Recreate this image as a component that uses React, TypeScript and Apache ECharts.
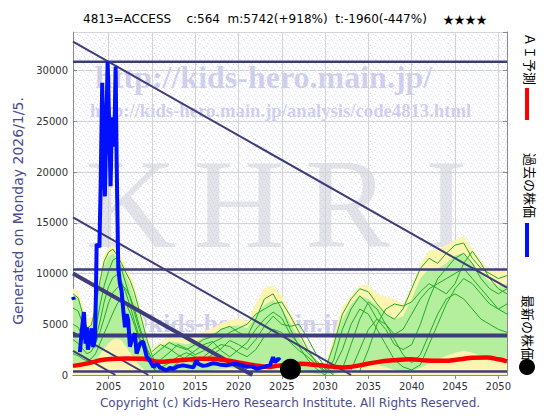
import React, { useEffect, useRef } from "react";
import * as echarts from "echarts";

// ---------------- axes ----------------
const X_MIN = 2000.9;
const X_MAX = 2051.0;
const Y_MAX = 33800;
const Y_INTERVAL = 5000;
const xTickYears = [2005, 2010, 2015, 2020, 2025, 2030, 2035, 2040, 2045, 2050];

// ---------------- texts ----------------
const TITLE = "4813=ACCESS    c:564  m:5742(+918%)  t:-1960(-447%)";
const TITLE_STARS = "\u2605\u2605\u2605\u2605";
const Y_NAME = "Generated on Monday 2026/1/5.";
const COPYRIGHT = "Copyright (c) Kids-Hero Research Institute. All Rights Reserved.";
const LEGEND_AI = "\uff21\uff29\u4e88\u6e2c";
const LEGEND_PAST = "\u904e\u53bb\u306e\u682a\u4fa1";
const LEGEND_LATEST = "\u6700\u65b0\u306e\u682a\u4fa1";

// ---------------- past price (blue) ----------------
const pastYears = [
  2000.92, 2001.0, 2001.3, 2001.7, 2001.9, 2002.16, 2002.35, 2002.5, 2002.62, 2002.85,
  2003.05, 2003.23, 2003.43, 2003.55, 2003.63, 2003.95, 2004.1, 2004.27, 2004.58, 2004.9,
  2005.24, 2005.4, 2005.55, 2005.7, 2005.82, 2005.94, 2006.12, 2006.32, 2006.51, 2006.7,
  2006.9, 2007.1, 2007.27, 2007.47, 2007.67, 2008.05, 2008.24, 2008.63, 2009.0, 2009.4,
  2009.78, 2010.16, 2010.6, 2010.94, 2011.3, 2011.7, 2012.1, 2012.47, 2013.0, 2013.6,
  2014.2, 2014.8, 2015.17, 2015.36, 2015.9, 2016.33, 2017.0, 2017.5, 2018.0, 2018.6,
  2019.2, 2019.8, 2020.4, 2020.95, 2021.5, 2022.1, 2022.86, 2023.3, 2023.64, 2024.0,
  2024.2, 2024.6, 2024.8,
];
const pastValues = [
  7700, 7400, null, 2250, 4300, 6200, 3100, 4700, 2500, 3600,
  4600, 2750, 3600, 8000, 12900, 12600, 19000, 28800, 17600, 30900,
  18600, 25400, 22500, 24500, 30400, 21000, 10600, 9000, 8300, 6400,
  4700, 6000, 5400, 2800, 3400, 4100, 2100, 3100, 3300, 1800,
  1400, 800, 1100, 750, 600, 450, 700, 600, 850, 950,
  850, 750, 1450, 1100, 900, 950, 1150, 1100, 1000, 950,
  1050, 1100, 950, 800, 850, 620, 780, 900, 950, 1760,
  1250, 1600, 1450,
];

// ---------------- AI forecast (red) ----------------
const aiYears = [
  2000.9, 2002, 2003.2, 2004, 2005.2, 2007, 2009, 2010.9, 2012.5, 2014, 2015.5, 2016.7,
  2018.6, 2020.5, 2022.5, 2023.6, 2024.4, 2026, 2027.1, 2029.4, 2031, 2032.1, 2033, 2034,
  2036, 2037.9, 2039.8, 2041.7, 2043.6, 2045.6, 2047, 2048.7, 2050, 2051,
];
const aiValues = [
  900, 1050, 1270, 1450, 1580, 1620, 1600, 1300, 1400, 1500, 1600, 1600,
  1450, 1150, 880, 800, 900, 1000, 1100, 950, 800, 750, 800, 950,
  1270, 1450, 1550, 1430, 1400, 1550, 1700, 1720, 1550, 1350,
];

// ---------------- latest price ----------------
const latestYear = 2026.0;
const latestValue = 564;

// ---------------- forecast fan 1 ----------------
const r1Years = [2000.9, 2001.5, 2002, 2002.5, 2003, 2003.5, 2004, 2004.5, 2005, 2005.5, 2006, 2006.5, 2007, 2007.5, 2008, 2008.5, 2009, 2009.5, 2010, 2010.5, 2011, 2011.5];
const r1Outer = [8500, 8300, 6900, 5600, 5700, 7300, 10200, 11900, 12500, 12800, 12400, 11700, 10800, 9900, 8800, 7200, 5600, 3900, 2500, 1300, 500, 0];
const r1BandTop = [7800, 7500, 6000, 4800, 4700, 6200, 9000, 10800, 11700, 12000, 11600, 10800, 9800, 8800, 7600, 6000, 4600, 3100, 1900, 900, 300, 0];
const r1BandBottom = [1200, 1100, 900, 800, 1000, 1400, 2000, 2600, 3100, 3500, 3600, 3400, 2800, 2200, 1600, 1000, 600, 300, 100, 0, 0, 0];
const r1Line1 = [8000, 7600, 6100, 4600, 4900, 6600, 9200, 11200, 12100, 12400, 11800, 11000, 10100, 9300, 8100, 6500, 4900, 3300, 2000, 1000, 300, null];
const r1Line2 = [6600, 6300, 5100, 3900, 3600, 4400, 6800, 8800, 10200, 11300, 11600, 10400, 9000, 7600, 6100, 4600, 3500, 2500, 1600, 800, null, null];
const r1Line3 = [5000, 4700, 3900, 3100, 2900, 3600, 5200, 7200, 8700, 9600, 9900, 9200, 8100, 6800, 5300, 3900, 2700, 1700, 900, 300, null, null];
const r1Line4 = [3500, 3100, 2600, 2100, 2300, 3100, 4200, 5600, 7100, 8100, 8600, 8900, 8500, 7700, 6500, 5000, 3600, 2300, 1300, 600, null, null];
const r1Line5 = [2100, 1900, 1600, 1400, 1600, 2100, 3100, 4100, 5100, 6100, 7000, 7600, 7100, 6100, 4900, 3600, 2600, 1600, 900, 400, null, null];

// ---------------- forecast fan 2 ----------------
const r2Years = [2009, 2010, 2011, 2012, 2013, 2014, 2015, 2016, 2017, 2018, 2019, 2020, 2021, 2022, 2023, 2024, 2025, 2026, 2027, 2028, 2029, 2030, 2031];
const r2Outer = [0, 2600, 3300, 3800, 3700, 3500, 3800, 4300, 4600, 5100, 5400, 5600, 5300, 7100, 8600, 8800, 7800, 6100, 4700, 3000, 1600, 700, 0];
const r2BandTop = [0, 2100, 2800, 3300, 3200, 3000, 3300, 3700, 4100, 4500, 4800, 4900, 4600, 5900, 6900, 7400, 6600, 5100, 3700, 2300, 1200, 400, 0];
const r2BandBottom = [0, 200, 300, 300, 400, 300, 300, 400, 500, 600, 700, 600, 600, 800, 1100, 1300, 1200, 900, 600, 300, 100, 0, 0];
const r2Line1 = [null, 1800, 2500, 3200, 2800, 2500, 3000, 3500, 3800, 4500, 4800, 4200, 3800, 5500, 7500, 8000, 6500, 4500, 2800, 1500, 600, 0, null];
const r2Line2 = [null, 1200, 1500, 2200, 3000, 2600, 2000, 2400, 3200, 3600, 4200, 4600, 5000, 6000, 6500, 7000, 7200, 5800, 4200, 2500, 1200, 400, null];
const r2Line3 = [null, 900, 700, 1200, 1800, 2200, 1800, 1500, 2000, 2600, 3400, 3000, 2500, 3500, 4800, 5800, 5000, 4800, 5000, 3600, 2000, 800, 200];
const r2Line4 = [null, 2300, 3000, 2600, 2000, 1500, 1200, 1800, 2500, 3000, 2800, 2200, 1800, 2500, 3800, 4500, 4200, 3200, 2400, 1800, 1000, 300, null];
const r2Line5 = [null, null, null, 500, 1200, 1800, 2400, 3000, 3300, 2400, 1800, 2500, 3200, 4500, 5500, 6200, 5600, 4000, 3000, 2200, 1400, 600, 0];

// ---------------- forecast fan 3 ----------------
const r3Years = [2029, 2030, 2031, 2032, 2033, 2034, 2035, 2036, 2037, 2038, 2039, 2040, 2041, 2042, 2043, 2044, 2045, 2046, 2047, 2048, 2049, 2050, 2051];
const r3Outer = [0, 900, 4000, 6800, 7800, 8800, 8900, 8000, 7700, 7500, 7000, 8800, 11000, 12300, 12400, 12800, 13300, 13700, 12500, 11200, 10500, 10200, 10300];
const r3BandTop = [0, 500, 3000, 5500, 7000, 7800, 7500, 6800, 6000, 5500, 5800, 7500, 9500, 10500, 10500, 11000, 11800, 12000, 11000, 10000, 9200, 8800, 9000];
const r3BandBottom = [0, 0, 100, 300, 600, 900, 1100, 1000, 800, 500, 300, 400, 700, 1100, 1500, 1900, 2200, 2400, 2200, 1900, 1700, 1600, 1700];
const r3Line1 = [null, 500, 3000, 6000, 7500, 8500, 8200, 7000, 6000, 5500, 6500, 8500, 10500, 11500, 11000, 12000, 12800, 13000, 11500, 10500, 10000, 9500, 9800];
const r3Line2 = [null, 0, 1500, 4500, 6500, 7800, 7000, 5500, 4500, 3000, 2500, 3000, 5000, 7500, 9500, 10500, 11500, 12000, 11000, 9500, 8500, 8000, 8500];
const r3Line3 = [null, null, 800, 2500, 5000, 6500, 6000, 4500, 3000, 1500, 800, 500, 1000, 3000, 5000, 7000, 8500, 9500, 9000, 8000, 7000, 6500, 7000];
const r3Line4 = [null, null, null, 600, 3000, 5500, 7200, 6500, 5000, 4000, 4500, 6000, 7500, 8500, 9000, 9500, 10000, 10500, 9500, 8500, 7500, 6500, 6000];
const r3Line5 = [null, null, null, null, 500, 2500, 4500, 5500, 5000, 3500, 2000, 1200, 2000, 4000, 6000, 7500, 8000, 7500, 6500, 5500, 5000, 4500, 4200];
const r3Line6 = [null, null, null, null, null, 400, 2500, 5000, 6500, 7000, 6800, 7200, 8200, 9000, 8500, 8000, 9000, 11000, 12200, 11000, 9500, 8500, 8000];

// ---------------- trend lines (start / end) ----------------
const trendA = [[2000.9, 32850], [2051.0, 8600]];
const trendB = [[2000.9, 15530], [2033.0, 0]];
const trendC = [[2000.9, 10000], [2021.6, 0]];
const trendD = [[2000.9, 4200], [2009.6, 0]];
const trendE = [[2000.9, 2370], [2005.8, 0]];
const levelValues = [30875, 10400, 3900, 350];
const levelWidths = [2.5, 2.5, 4, 2.5];

// ---------------- helpers ----------------
const zip = (xs: number[], ys: (number | null)[]) =>
  xs.map((x, i) => [x, ys[i]]).filter((p) => p[1] !== null);

const YELLOW = "#fcf5b2";
const LGREEN = "#b4ef9e";
const GLINE = "#22ab22";
const NAVY = "#3d3d7a";
const SLATE = "#4b4b8e";

function makePattern(): any {
  const c = document.createElement("canvas");
  c.width = 8;
  c.height = 8;
  const ctx = c.getContext("2d");
  if (!ctx) return "#faf8fb";
  ctx.fillStyle = "#ffffff";
  ctx.fillRect(0, 0, 8, 8);
  const pink = [[1, 0], [5, 2], [2, 5], [6, 6]];
  const cyan = [[4, 0], [0, 3], [7, 3], [3, 7]];
  ctx.fillStyle = "#f4cff2";
  pink.forEach(([x, y]) => ctx.fillRect(x, y, 1, 1));
  ctx.fillStyle = "#cdeff3";
  cyan.forEach(([x, y]) => ctx.fillRect(x, y, 1, 1));
  return { image: c, repeat: "repeat" };
}

export default function App() {
  const ref = useRef<HTMLDivElement>(null);

  useEffect(() => {
    if (!ref.current) return;
    const chart = echarts.init(ref.current, undefined, { renderer: "svg" });

    const area = (xs: number[], ys: (number | null)[], color: string) => ({
      type: "line",
      data: zip(xs, ys),
      symbol: "none",
      showSymbol: false,
      silent: true,
      lineStyle: { width: 0, opacity: 0 },
      areaStyle: { color, opacity: 1 },
    });
    const gline = (xs: number[], ys: (number | null)[]) => ({
      type: "line",
      data: zip(xs, ys),
      symbol: "none",
      showSymbol: false,
      silent: true,
      lineStyle: { color: GLINE, width: 1 },
    });
    const navyLine = (data: number[][], width: number) => ({
      type: "line",
      data,
      symbol: "none",
      showSymbol: false,
      silent: true,
      lineStyle: { color: NAVY, width },
    });

    const series: any[] = [
      area(r1Years, r1Outer, YELLOW),
      area(r2Years, r2Outer, YELLOW),
      area(r3Years, r3Outer, YELLOW),
      area(r1Years, r1BandTop, LGREEN),
      area(r2Years, r2BandTop, LGREEN),
      area(r3Years, r3BandTop, LGREEN),
      area(r1Years, r1BandBottom, YELLOW),
      area(r2Years, r2BandBottom, YELLOW),
      area(r3Years, r3BandBottom, YELLOW),
      gline(r1Years, r1Line1),
      gline(r1Years, r1Line2),
      gline(r1Years, r1Line3),
      gline(r1Years, r1Line4),
      gline(r1Years, r1Line5),
      gline(r2Years, r2Line1),
      gline(r2Years, r2Line2),
      gline(r2Years, r2Line3),
      gline(r2Years, r2Line4),
      gline(r2Years, r2Line5),
      gline(r3Years, r3Line1),
      gline(r3Years, r3Line2),
      gline(r3Years, r3Line3),
      gline(r3Years, r3Line4),
      gline(r3Years, r3Line5),
      gline(r3Years, r3Line6),
      navyLine(trendA, 2),
      navyLine(trendB, 2),
      navyLine(trendC, 4),
      navyLine(trendD, 2),
      navyLine(trendE, 2),
      ...levelValues.map((v, i) => navyLine([[X_MIN, v], [X_MAX, v]], levelWidths[i])),
      {
        type: "line",
        data: zip(aiYears, aiValues),
        symbol: "none",
        showSymbol: false,
        smooth: 0.4,
        silent: true,
        lineStyle: { color: "#ff0000", width: 4.5 },
      },
      {
        type: "line",
        data: pastYears.map((x, i) => [x, pastValues[i] === null ? "-" : pastValues[i]]),
        symbol: "none",
        showSymbol: false,
        connectNulls: false,
        silent: true,
        lineStyle: { color: "#0010ff", width: 4 },
      },
      {
        type: "scatter",
        data: [[latestYear, latestValue]],
        symbol: "circle",
        symbolSize: 21,
        clip: false,
        z: 10,
        silent: true,
        itemStyle: { color: "#000000", opacity: 1 },
      },
    ];

    const axisGray = "#8a8a8a";
    const labelFont = { color: "#333", fontSize: 10, fontFamily: "DejaVu Sans" };
    const wm = "rgba(170,170,225,0.55)";
    const khri = "rgba(200,200,214,0.5)";
    const txt = (x: number, y: number, text: string, font: string, fill: string, align: string, valign: string, z: number, rotation = 0) => ({
      type: "text",
      z,
      silent: true,
      x,
      y,
      rotation,
      style: { text, font, fill, textAlign: align, textVerticalAlign: valign, align, verticalAlign: valign },
    });

    const option: any = {
      animation: false,
      backgroundColor: "#ffffff",
      grid: { left: 73, right: 53, top: 32, bottom: 45, containLabel: false },
      xAxis: [
        {
          type: "value",
          position: "bottom",
          min: X_MIN,
          max: X_MAX,
          axisLine: { show: true, lineStyle: { color: axisGray } },
          axisTick: { show: true, inside: true, length: 4, customValues: xTickYears, lineStyle: { color: axisGray } },
          axisLabel: { ...labelFont, customValues: xTickYears, margin: 6, formatter: (v: number) => String(v) },
          splitLine: { show: true, lineStyle: { color: "#d4d4d4", width: 1 } },
        },
        {
          type: "value",
          position: "top",
          min: X_MIN,
          max: X_MAX,
          axisLine: { show: true, lineStyle: { color: axisGray } },
          axisTick: { show: true, inside: true, length: 4, customValues: xTickYears, lineStyle: { color: axisGray } },
          axisLabel: { show: false },
          splitLine: { show: false },
        },
      ],
      yAxis: [
        {
          type: "value",
          position: "left",
          min: 0,
          max: Y_MAX,
          interval: Y_INTERVAL,
          axisLine: { show: true, lineStyle: { color: axisGray } },
          axisTick: { show: true, inside: true, length: 4, lineStyle: { color: axisGray } },
          axisLabel: { ...labelFont, margin: 5, showMaxLabel: false, formatter: (v: number) => String(v) },
          splitLine: { show: true, lineStyle: { color: "#d4d4d4", width: 1 } },
        },
        {
          type: "value",
          position: "right",
          min: 0,
          max: Y_MAX,
          interval: Y_INTERVAL,
          axisLine: { show: true, lineStyle: { color: axisGray } },
          axisTick: { show: true, inside: true, length: 4, lineStyle: { color: axisGray } },
          axisLabel: { show: false },
          splitLine: { show: false },
        },
      ],
      graphic: [
        { type: "rect", z: -20, silent: true, shape: { x: 73, y: 32, width: 434, height: 343 }, style: { fill: makePattern() } },
        txt(95, 77, "http://kids-hero.main.jp/", 'bold 32px "Liberation Serif"', wm, "left", "middle", -10),
        txt(90, 110, "http://kids-hero.main.jp/analysis/code4813.html", 'bold 18.7px "Liberation Serif"', wm, "left", "middle", -10),
        txt(85, 204, "K", '127px "Liberation Serif"', khri, "left", "middle", -10),
        txt(193, 204, "H", '127px "Liberation Serif"', khri, "left", "middle", -10),
        txt(305, 204, "R", '127px "Liberation Serif"', khri, "left", "middle", -10),
        txt(425, 204, "I", '127px "Liberation Serif"', khri, "left", "middle", -10),
        txt(81, 323, "info@kids-hero.main.jp", 'bold 26px "Liberation Serif"', wm, "left", "middle", -10),
        txt(83, 19, TITLE, '12px "DejaVu Sans"', "#000", "left", "middle", 10),
        txt(443, 19, TITLE_STARS, '11px "Noto Sans CJK JP"', "#000", "left", "middle", 10),
        txt(18, 211, Y_NAME, '14px "DejaVu Sans"', SLATE, "center", "middle", 10, Math.PI / 2),
        txt(290, 403, COPYRIGHT, '12px "DejaVu Sans"', SLATE, "center", "middle", 10),
        txt(530, 33, LEGEND_AI, '13px "Noto Sans CJK JP"', "#000", "left", "middle", 10, -Math.PI / 2),
        { type: "rect", z: 10, silent: true, shape: { x: 525, y: 88, width: 4, height: 32 }, style: { fill: "#ff0000" } },
        txt(530, 153, LEGEND_PAST, '13px "Noto Sans CJK JP"', "#000", "left", "middle", 10, -Math.PI / 2),
        { type: "rect", z: 10, silent: true, shape: { x: 525, y: 223, width: 4, height: 34 }, style: { fill: "#0010ff" } },
        txt(528, 295, LEGEND_LATEST, '13px "Noto Sans CJK JP"', "#000", "left", "middle", 10, -Math.PI / 2),
        { type: "circle", z: 10, silent: true, shape: { cx: 527, cy: 367, r: 8 }, style: { fill: "#000" } },
      ],
      series,
    };

    chart.setOption(option);
    return () => chart.dispose();
  }, []);

  return (
    <div
      ref={ref}
      style={{ position: "fixed", left: 0, top: 0, width: 560, height: 420, background: "#fff" }}
    />
  );
}
